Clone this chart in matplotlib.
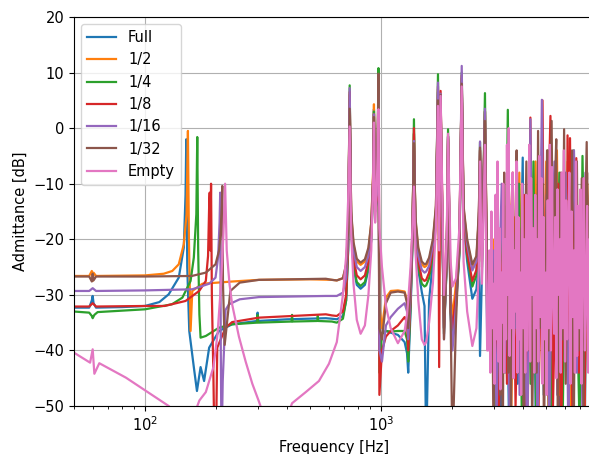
import matplotlib
matplotlib.use('Agg')
import matplotlib.pyplot as plt

plt.rcParams['font.size'] = 10.5

labels = ['Full', '1/2', '1/4', '1/8', '1/16', '1/32', 'Empty']

# --- below 650 Hz: first plate resonance, each fill level on its own breakpoints ---
full_low_f = [50, 58, 59.5, 60, 60.5, 62, 80, 100, 115, 126, 139, 146, 148.5, 149.6, 151,
              154, 161, 166, 172, 178, 187, 206, 234, 298, 300, 302, 400, 584, 620]
full_low_db = [-32.3, -32.3, -31, -30.2, -31.5, -32.3, -32.2, -32, -31.3, -29.9, -26.9, -21.5, -12, -2, -25,
               -36.5, -43, -47.3, -43, -45.5, -39.5, -36.5, -35.3, -34.7, -33.2, -34.7, -34.4, -34.2, -34.3]

half_low_f = [50, 58, 59.5, 60, 60.5, 62, 100, 120, 130.5, 139, 146, 150, 152, 153.5, 156,
              158.6, 175, 234, 304, 500, 620]
half_low_db = [-26.6, -26.6, -25.7, -27.5, -26, -26.6, -26.5, -26.2, -25.7, -24.5, -20.9, -15.5, -0.5, -20, -36.5,
               -29.3, -28, -27.6, -27.3, -27.2, -27.3]

quarter_low_f = [50, 58, 59.5, 60, 61, 63, 100, 130, 144, 156, 161, 165, 166.5, 168, 170,
                 172, 181, 206, 234, 298, 300, 302, 418, 420, 422, 538, 540, 542, 620]
quarter_low_db = [-33, -33.2, -33.8, -34.2, -33.6, -33.1, -32.6, -31.7, -30.5, -27.5, -23.3, -15.5, -1.6, -22, -33.5,
                  -37.7, -37.4, -35.9, -35.3, -35, -33.6, -35, -34.8, -33.6, -34.8, -34.7, -33.8, -34.7, -34.8]

eighth_low_f = [50, 58, 60, 62, 100, 121, 148.5, 169.6, 181, 185, 187, 188, 189, 190.5, 192,
                195, 197, 200, 202.4, 219.5, 234, 304, 584, 620]
eighth_low_db = [-32.1, -32.1, -31.5, -32.1, -32, -32, -31.1, -29.3, -27.5, -23, -14, -11.6, -22, -10, -30,
                 -45, -58, -56, -39.5, -35.9, -34.9, -34.1, -33.5, -33.7]

sixteenth_low_f = [50, 58, 60, 62, 100, 158.6, 187, 199, 204, 207, 208.3, 209.5, 211, 213.5, 219.5,
                   227, 252, 304, 584, 620]
sixteenth_low_db = [-29.3, -29.3, -28.8, -29.3, -29.2, -29, -28, -26.9, -23.3, -17, -11.6, -40, -58, -45.5, -32.7,
                    -31.7, -30.8, -30.4, -30.2, -30.2]

thirtysecond_low_f = [50, 58, 59.5, 60, 60.5, 62, 100, 158, 181, 199, 206, 209, 211.5, 212.6, 214,
                      217.6, 223, 230, 252, 304, 584, 620]
thirtysecond_low_db = [-26.7, -26.7, -27.6, -26.2, -27.4, -26.7, -26.7, -26.6, -26, -24.5, -22, -19, -14, -10.4, -28,
                       -39, -34.7, -29.3, -27.8, -27.3, -27.1, -27.3]

empty_low_f = [50, 58.5, 60, 61, 64, 83, 101, 126, 140, 160, 170, 181, 195, 203, 210,
               215, 218.5, 222, 228, 234, 250, 267, 285, 304, 320, 400, 420, 480, 546, 602, 625]
empty_low_db = [-40.4, -42.2, -39.8, -44.2, -42.3, -44.9, -47.3, -50, -52, -52, -49, -47.5, -43, -37, -28,
                -19, -10, -22, -28, -31.7, -37.5, -42, -46, -49.2, -52, -52, -49.5, -47.5, -45.5, -42.4, -40.5]

# --- 650 Hz to 2.8 kHz: shared mode frequencies ---
mid_f = [650, 690, 712, 726, 737, 748, 765, 790, 820, 855, 885, 910, 926, 934, 945,
         958, 968, 976, 985, 1010, 1050, 1100, 1180, 1260, 1290, 1305, 1335, 1360, 1380, 1400,
         1440, 1490, 1530, 1555, 1600, 1660, 1710, 1745, 1765, 1790, 1850, 1900, 1925, 1975, 2010,
         2080, 2150, 2200, 2240, 2320, 2440, 2540, 2600, 2630, 2680, 2760, 2820]

full_mid_db = [-34.4, -33.8, -31, -22, 5, -18.5, -25, -28.2, -28.9, -28.2, -25.5, -20, -10.5, 3.4, -15,
               -13.5, -7, 7.5, -40, -37, -36.5, -36.8, -37.2, -38.5, -40.5, -44, -33, -21, -1, -19,
               -25.5, -29.5, -32, -58, -31, -24, -17, 6.5, -18, 4.5, -36, -25, -1.5, -34, -38,
               -32, -23, 8.5, -17, -24, -30.7, -29, -24, -41, -26, 3, -38]
half_mid_db = [-27.4, -27, -24.8, -18.5, 6, -15.5, -21, -24, -24.6, -24, -22, -17, -8, 4.3, -12,
               -11, -4, 8, -32, -36, -30.5, -29.3, -29.2, -29.4, -31, -34, -28.5, -18.5, -1, -16.5,
               -22, -24.5, -25, -24.8, -23.8, -20.5, -14.5, 7, -15, 5, -32.5, -22, -2, -30, -34,
               -28, -20, 9, -14.5, -20.5, -25, -23.5, -16, -4, -22, 3, -27]
quarter_mid_db = [-35, -34.3, -31, -22, 7.7, -18, -24.5, -27.7, -28.4, -27.7, -25, -20, -10.5, 3, -14.5,
                  -13, -6.5, 10.8, -44, -37, -36.5, -36.6, -36.5, -36.5, -38, -42, -32, -20.5, 1.6, -18.5,
                  -25, -28, -28.5, -28.3, -27, -23, -16.5, 9.7, -17, 5, -37, -24.5, -0.2, -33, -37,
                  -31, -22.5, 10, -16.5, -23, -28.5, -26.5, -17.5, -2.5, -25, 6.3, -35]
eighth_mid_db = [-33.8, -33, -30, -21, 6.5, -17.5, -23.5, -26.5, -27.2, -26.5, -24, -19, -10, 2.5, -14,
                 -13, -6, 8.5, -48, -40, -37.5, -36.5, -35.5, -34, -35, -40, -31, -20, 0, -18,
                 -24, -27, -27.5, -27.3, -26, -22, -16, 7.5, -43, 6.7, -36, -24, -1.5, -33, -36,
                 -30, -22, 9.5, -16, -22.5, -27.5, -25.5, -17, -4, -24, 3, -33]
sixteenth_mid_db = [-30.2, -29.6, -27, -19.5, 7.2, -16, -22, -25, -25.7, -25, -23, -18, -9.5, 2.5, -13,
                    -12, -5, 9, -40, -42, -35.5, -34, -32.5, -31.5, -33, -38, -30, -19, -2.3, -17,
                    -23, -25.5, -26, -25.8, -24.8, -21, -15, 8.2, -16, 6.2, -38, -23, -1.8, -32, -40,
                    -32, -21, 11.2, -15, -21, -25.6, -24, -16, -2.4, -23, 3.5, -30]
thirtysecond_mid_db = [-27.4, -27, -24.5, -18, 3.5, -15, -20.5, -23.5, -24.2, -23.6, -21.5, -17, -9, 2, -12,
                       -10, -3, 9.8, -36, -38, -31.5, -29.6, -29.4, -29.6, -31.5, -36, -28, -18, -2.7, -16,
                       -21.5, -24, -24.5, -24.4, -23.3, -20, -14, 5, -14, 6, -38, -22, -1.5, -35, -58,
                       -35, -20, 8, -14, -20, -24.5, -23, -15, -3.5, -22, 1.3, -25]
empty_mid_db = [-38.5, -30, -23, -13, 0.3, -19, -28, -34.5, -37, -35.5, -30, -22, -10, 1, -17,
                -12, -5, 3.4, -18, -25, -32, -36, -38.7, -36.5, -33.5, -31, -25, -18, -10.5, -22,
                -31, -38, -39, -38.5, -35, -28, -18, 4, -22, 5.8, -30, -20, -1, -24, -28.5,
                -27, -18, 7.5, -24, -33, -39.2, -36, -25, -6, -28, -3, -40]

# --- above 2.8 kHz: dense modes ---
full_high_f = [2880, 2960, 3040, 3120, 3200, 3300, 3400, 3500, 3600, 3700, 3800, 3900, 3990, 4080, 4180,
               4300, 4420, 4540, 4660, 4780, 4900, 5030, 5160, 5300, 5440, 5580, 5730, 5880, 6040, 6200,
               6370, 6540, 6720, 6900, 7090, 7290, 7500, 7720, 8000]
full_high_db = [-38, -30, -44, -26, -58, -34, -22, -56, -30, -18, -46, -28, -5.3, -57, -24,
                -40, -14, -55, -30, -10, -48, -26, -58, -16, -36, -8, -52, -22, -40, -12,
                -56, -28, -10, -44, -20, -58, -14, -38, -24]

half_high_f = [2860, 2940, 3020, 3100, 3190, 3280, 3370, 3460, 3560, 3660, 3760, 3860, 3960, 4070, 4180,
               4290, 4400, 4520, 4640, 4760, 4890, 5020, 5150, 5290, 5430, 5570, 5720, 5870, 6030, 6190,
               6360, 6530, 6710, 6890, 7080, 7280, 7490, 7710, 8000]
half_high_db = [-27, -34, -20, -48, -26, -12, -40, -24, -55, -16, -32, -8, -44, -22, -56,
                -12, -34, -6, -50, -20, -38, -6, -57, -18, -30, -4, -48, -14, -36, -6,
                -55, -20, -8, -42, -16, -56, -10, -34, -22]

quarter_high_f = [2870, 2950, 3030, 3100, 3180, 3260, 3350, 3450, 3540, 3640, 3740, 3850, 3960, 4070, 4190,
                  4310, 4430, 4560, 4690, 4820, 4960, 5100, 5250, 5400, 5550, 5710, 5870, 6040, 6210, 6390,
                  6570, 6760, 6950, 7150, 7360, 7580, 7800, 8000]
quarter_high_db = [-36, -28, -46, -58, -30, -16, -44, 3.3, -50, -20, -36, -10, -54, -26, -14,
                   -46, -6, -56, -24, -12, -40, -4, -52, -18, -34, -8, -57, -22, -12, -44,
                   -4, -30, -54, -5, -36, -18, -46, -26]

eighth_high_f = [2880, 2970, 3060, 3150, 3240, 3330, 3420, 3520, 3620, 3720, 3820, 3930, 4040, 4150, 4300,
                 4400, 4510, 4630, 4750, 4840, 4950, 5080, 5230, 5360, 5500, 5650, 5800, 5960, 6120, 6180,
                 6260, 6330, 6480, 6600, 6680, 6730, 6900, 7080, 7270, 7470, 7680, 8000]
eighth_high_db = [-34, -42, -24, -56, -30, -14, -46, -22, -8, -50, -26, -40, -12, -55, 1.9,
                  -38, -18, -56, -28, 5, -44, -20, 2.2, -50, -26, -10, -58, -20, -40, -1.3,
                  -38, -1.8, -52, -6, -40, -5.4, -44, -18, -56, -12, -36, -24]

sixteenth_high_f = [2860, 2940, 3010, 3090, 3170, 3250, 3340, 3430, 3520, 3610, 3700, 3770, 3870, 3970, 4070,
                    4180, 4300, 4400, 4500, 4610, 4720, 4810, 4920, 5040, 5170, 5300, 5440, 5590, 5740, 5900,
                    6060, 6230, 6400, 6580, 6760, 6950, 7150, 7360, 7580, 7800, 8000]
sixteenth_high_db = [-30, -40, -22, -52, -28, -10, -44, -24, -56, -18, -36, -6, -48, -20, -38,
                     -55, 1.6, -42, -16, -56, -26, 5.1, -40, -12, -54, -22, -6, -48, -16, -36,
                     -8, -56, -20, -4, -44, -14, -52, -8, -34, -50, -22]

thirtysecond_high_f = [2860, 2895, 2930, 2965, 3000, 3040, 3080, 3120, 3160, 3200,
                       3240, 3285, 3330, 3375, 3420, 3465, 3510, 3560, 3610, 3660,
                       3710, 3760, 3810, 3860, 3915, 3970, 4025, 4080, 4135, 4195,
                       4255, 4315, 4375, 4440, 4505, 4570, 4635, 4700, 4770, 4840,
                       4910, 4985, 5060, 5135, 5210, 5290, 5370, 5450, 5535, 5620,
                       5705, 5795, 5885, 5975, 6070, 6165, 6260, 6360, 6460, 6560,
                       6665, 6770, 6880, 6990, 7100, 7215, 7330, 7450, 7570, 7690,
                       7815, 7940, 8000]
thirtysecond_high_db = [-28, -40, -24, -32, -55, -26, -12, -36, -22, -48,
                        -26, -58, -8, -32, -20, -44, -26, -52, -10, -38,
                        -22, -4, -44, -18, -34, -14, -56, -24, -6, -30,
                        -40, -18, -54, -30, -12, -44, -0.5, -36, -20, -10,
                        -58, -26, -4, -40, -16, 1.3, -32, -12, -2, -55,
                        -20, -8, -38, -0.2, -46, -24, -12, -34, -4, -57,
                        -20, -6, -40, -26, -9, -50, -18, -2.5, -36, -8,
                        -44, -14, -20]

empty_high_f = [2850, 2880, 2910, 2940, 2970, 3000, 3030, 3060, 3090, 3120,
                3150, 3180, 3210, 3240, 3270, 3300, 3330, 3360, 3390, 3420,
                3450, 3480, 3510, 3545, 3580, 3615, 3650, 3685, 3720, 3755,
                3790, 3825, 3860, 3895, 3930, 3970, 4010, 4050, 4090, 4130,
                4170, 4210, 4250, 4290, 4330, 4375, 4420, 4465, 4510, 4555,
                4600, 4645, 4690, 4740, 4790, 4840, 4890, 4940, 4990, 5040,
                5090, 5145, 5200, 5255, 5310, 5365, 5420, 5480, 5540, 5600,
                5660, 5720, 5780, 5840, 5900, 5965, 6030, 6095, 6160, 6225,
                6290, 6360, 6430, 6500, 6570, 6640, 6710, 6785, 6860, 6935,
                7010, 7085, 7160, 7240, 7320, 7400, 7480, 7560, 7640, 7720,
                7800, 7900, 8000]
empty_high_db = [-40, -22, -44, -15, -36, -28, -46, -12, -38, -6,
                 -42, -18, -47, -26, -35, -10, -44, -20, -38, -3,
                 -30, 0, -41, -14, -36, -8, -45, -22, -33, -6,
                 -44, -16, -38, -26, -48, -10, -36, -20, -44, -12,
                 -40, -24, -3, -42, -9, -30, -18, -44, -12, -36,
                 -20, -42, -5, -34, -9, -46, -16, -38, -26, -48,
                 -13, -36, -3, -40, -7, -30, -37, -16, -45, -11,
                 -30, -20, -44, -8, -36, -4, -42, -13, -38, -18,
                 -8, -46, -15, -34, -22, -44, -6, -41, -14, -36,
                 -11, -46, -24, -9, -40, -30, -14, -44, -20, -40,
                 -12, -35, -26]

series = [
    (full_low_f, full_low_db, full_mid_db, full_high_f, full_high_db),
    (half_low_f, half_low_db, half_mid_db, half_high_f, half_high_db),
    (quarter_low_f, quarter_low_db, quarter_mid_db, quarter_high_f, quarter_high_db),
    (eighth_low_f, eighth_low_db, eighth_mid_db, eighth_high_f, eighth_high_db),
    (sixteenth_low_f, sixteenth_low_db, sixteenth_mid_db, sixteenth_high_f, sixteenth_high_db),
    (thirtysecond_low_f, thirtysecond_low_db, thirtysecond_mid_db, thirtysecond_high_f, thirtysecond_high_db),
    (empty_low_f, empty_low_db, empty_mid_db, empty_high_f, empty_high_db),
]

fig = plt.figure(figsize=(5.89, 4.54), dpi=100)
ax = fig.add_axes([74 / 589, 48 / 454, 520 / 589, 389 / 454])

for label, (low_f, low_db, mid_db, high_f, high_db) in zip(labels, series):
    freq = low_f + mid_f + high_f
    level = low_db + mid_db + high_db
    ax.semilogx(freq, level, label=label, lw=1.6)

ax.set_xlim(50, 8000)
ax.set_ylim(-50, 20)
ax.grid(True)
ax.set_xlabel('Frequency [Hz]')
ax.set_ylabel('Admittance [dB]')
ax.legend(loc='upper left')

fig.savefig('out.png', dpi=100)
